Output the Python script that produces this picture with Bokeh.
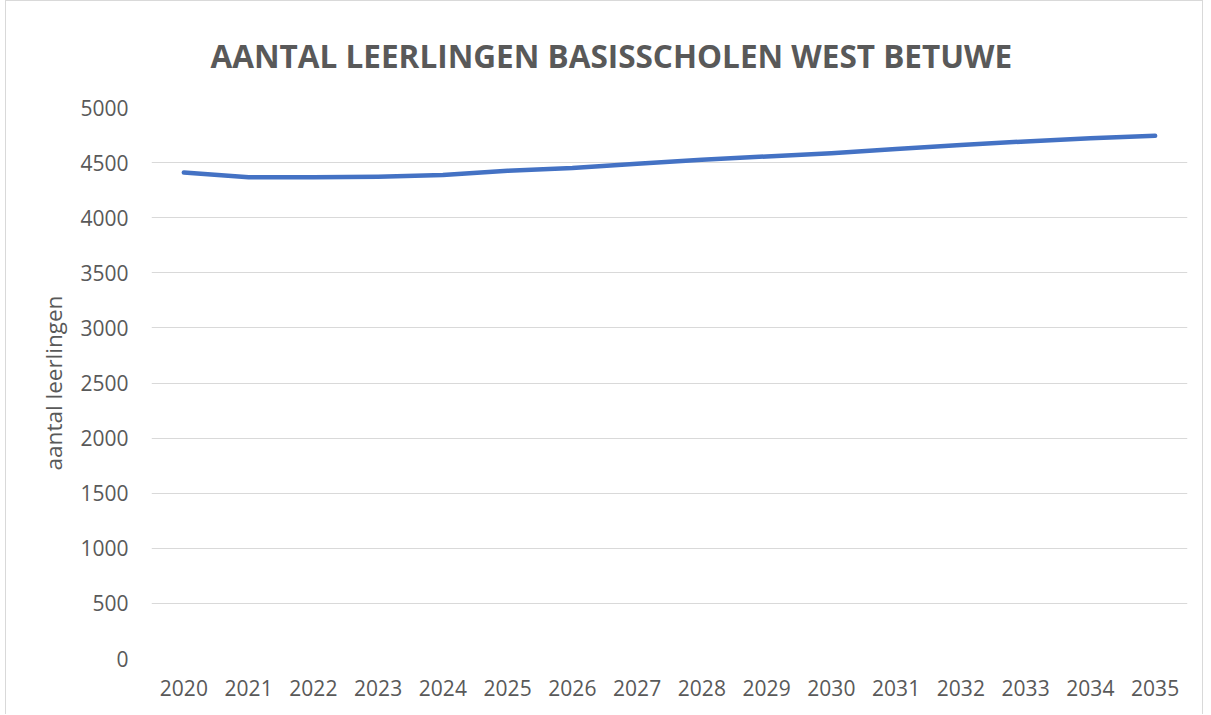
from bokeh.plotting import figure
from bokeh.models import ColumnDataSource
from bokeh.embed import file_html
from bokeh.resources import INLINE

years = [str(y) for y in range(2020, 2036)]
leerlingen = [4410, 4368, 4366, 4372, 4387, 4426, 4450, 4490, 4526, 4556, 4585, 4623, 4659, 4692, 4722, 4743]
y_ticks = [0, 500, 1000, 1500, 2000, 2500, 3000, 3500, 4000, 4500, 5000]
title_text = "AANTAL LEERLINGEN BASISSCHOLEN WEST BETUWE"
y_label = "aantal leerlingen"

src = ColumnDataSource(dict(year=years, value=leerlingen))

p = figure(x_range=years, y_range=(0, 5000), width=1198, height=714,
           output_backend="svg", toolbar_location=None,
           min_border_left=145, min_border_right=17, min_border_top=106, min_border_bottom=57,
           margin=(0, 0, 0, 5),
           styles={"border-left": "1px solid #d9d9d9", "border-top": "1px solid #d9d9d9",
                   "border-right": "1px solid #d9d9d9"})
p.x_range.range_padding = 0
p.outline_line_color = None
p.background_fill_color = "white"
p.border_fill_color = "white"

p.title.text = title_text
p.title.align = "left"
p.title.offset = 59
p.title.standoff = 61
p.title.text_font = "Open Sans"
p.title.text_font_size = "31.5px"
p.title.text_font_style = "bold"
p.title.text_color = "#595959"

p.line("year", "value", source=src, line_color="#4472C4", line_width=4.5, line_cap="round", line_join="round")

p.yaxis.ticker = y_ticks
p.xgrid.grid_line_color = None
p.ygrid.grid_line_color = "#d9d9d9"
p.ygrid.grid_line_width = 1

for ax in (p.xaxis[0], p.yaxis[0]):
    ax.axis_line_color = None
    ax.major_tick_line_color = None
    ax.minor_tick_line_color = None
    ax.major_tick_out = 0
    ax.major_tick_in = 0
    ax.major_label_text_font = "Open Sans"
    ax.major_label_text_font_size = "21px"
    ax.major_label_text_color = "#595959"

p.yaxis.major_label_standoff = 23
p.xaxis.major_label_standoff = 21
p.yaxis.axis_label = y_label
p.yaxis.axis_label_text_font = "Open Sans"
p.yaxis.axis_label_text_font_size = "22.5px"
p.yaxis.axis_label_text_font_style = "normal"
p.yaxis.axis_label_text_color = "#595959"
p.yaxis.axis_label_standoff = 8

open("out.html", "w").write(file_html(p, INLINE))
